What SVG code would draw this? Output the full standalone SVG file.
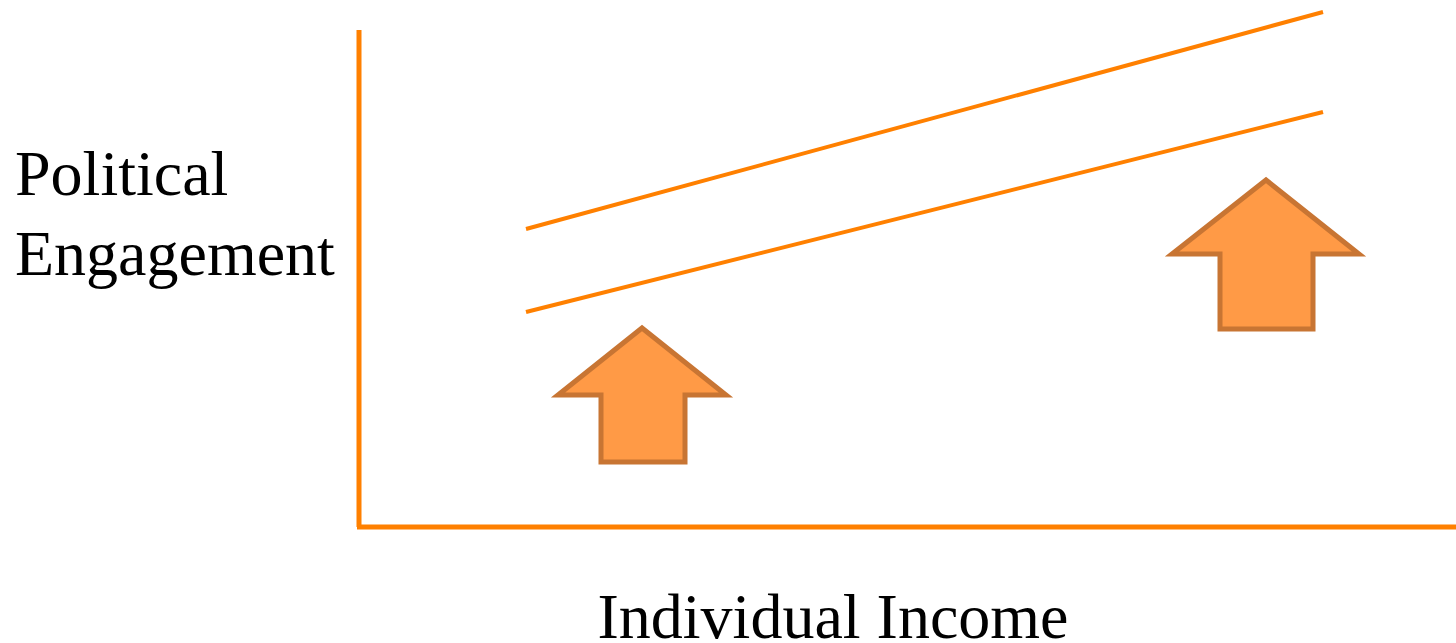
<svg xmlns="http://www.w3.org/2000/svg" width="1456" height="643" viewBox="0 0 1456 643">
<style>
.axis{stroke:#FF8000;stroke-width:5;fill:none}
.line{stroke:#FF8000;stroke-width:4;fill:none}
.arrow{fill:#FF9A46;stroke:#C87533;stroke-width:5;stroke-linejoin:miter}
.lbl{font-family:"Liberation Serif","Times New Roman",serif;font-size:64px;fill:#000}
</style>
<rect width="1456" height="643" fill="#fff"/>
<g id="connectors">
<path class="axis" d="M359,30 V527 M357,527 H1456"/>
<line class="line" x1="526" y1="229" x2="1323" y2="12"/>
<line class="line" x1="526" y1="312" x2="1323" y2="112"/>
</g>
<g id="arrow1"><polygon class="arrow" points="642,328 558,395 601,395 601,462 685,462 685,395 726,395"/></g>
<g id="arrow2"><polygon class="arrow" points="1266,180 1172,254 1220,254 1220,329 1313,329 1313,254 1359,254"/></g>
<g id="ylabel"><text class="lbl" x="15" y="195">Political</text><text class="lbl" x="15" y="275">Engagement</text></g>
<g id="xlabel"><text class="lbl" x="833" y="638" text-anchor="middle">Individual Income</text></g>
</svg>
